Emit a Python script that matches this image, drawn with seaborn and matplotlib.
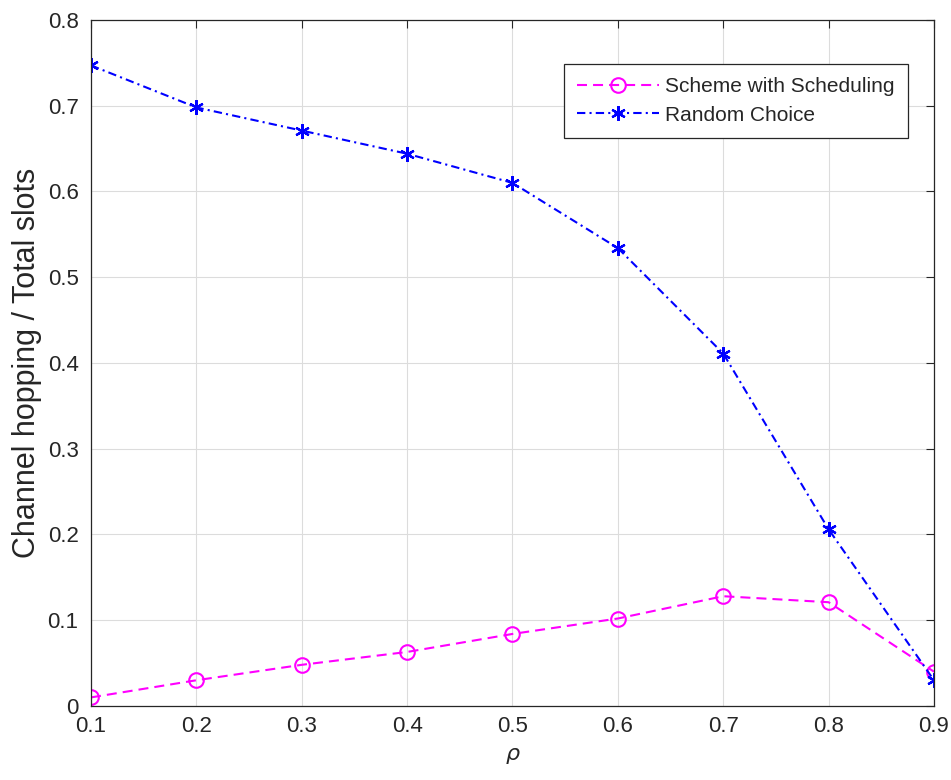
import matplotlib
matplotlib.use("Agg")
import matplotlib.pyplot as plt
import seaborn as sns
import pandas as pd

rho = [0.1, 0.2, 0.3, 0.4, 0.5, 0.6, 0.7, 0.8, 0.9]
scheme_scheduling = [0.010, 0.030, 0.048, 0.063, 0.084, 0.102, 0.128, 0.121, 0.040]
random_choice = [0.747, 0.698, 0.671, 0.644, 0.610, 0.534, 0.411, 0.206, 0.030]
yticks = [0, 0.1, 0.2, 0.3, 0.4, 0.5, 0.6, 0.7, 0.8]
xticks = rho

sns.set_theme(style="white")
plt.rcParams["font.family"] = ["Liberation Sans", "DejaVu Sans"]
plt.rcParams["mathtext.fontset"] = "dejavusans"

df = pd.DataFrame({"rho": rho, "sched": scheme_scheduling, "rand": random_choice})

fig = plt.figure(figsize=(9.51, 7.8), dpi=100)
ax = fig.add_axes([0.0957, 0.0949, 0.8864, 0.8795])

sns.lineplot(data=df, x="rho", y="sched", ax=ax, color="#ff00ff", linestyle=(0, (4.8, 2.9)),
             linewidth=1.5, marker="o", markersize=10.5, markerfacecolor="none",
             markeredgecolor="#ff00ff", markeredgewidth=1.5, label="Scheme with Scheduling")
sns.lineplot(data=df, x="rho", y="rand", ax=ax, color="#0000ff", linestyle=(0, (4, 2, 1, 2)),
             linewidth=1.5, marker=(6, 2, 0), markersize=10.5, markeredgecolor="#0000ff",
             markeredgewidth=1.6, label="Random Choice")

ax.set_xlim(0.1, 0.9)
ax.set_ylim(0, 0.8)
ax.set_xticks(xticks)
ax.set_yticks(yticks)
ax.set_xticklabels([f"{v:g}" for v in xticks])
ax.set_yticklabels([f"{v:g}" for v in yticks])
ax.grid(True, color="#dcdcdc", linewidth=0.8)
ax.tick_params(direction="in", length=6, width=0.8, colors="#262626", labelsize=16,
               top=True, right=True, labelcolor="#262626")
ax.tick_params(axis="x", pad=7)
ax.tick_params(axis="y", pad=9)
for sp in ax.spines.values():
    sp.set_color("#262626")
    sp.set_linewidth(0.9)

ax.set_xlabel(r"$\rho$", fontsize=16, color="#262626", labelpad=6)
ax.set_ylabel("Channel hopping / Total slots", fontsize=22, color="#262626", labelpad=4)

leg = ax.legend(loc="upper right", bbox_to_anchor=(0.969, 0.936), fontsize=15,
                frameon=True, fancybox=False, edgecolor="#262626", framealpha=1,
                handlelength=3.9, handletextpad=0.3, borderpad=0.65, labelspacing=0.45,
                borderaxespad=0)
leg.get_frame().set_linewidth(0.9)

fig.savefig("out.png", dpi=100)
